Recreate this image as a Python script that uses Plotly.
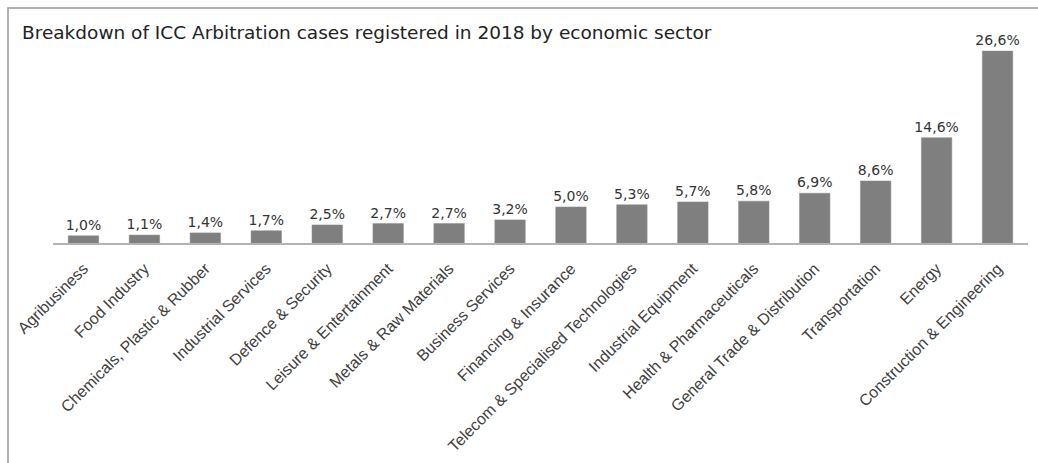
import plotly.graph_objects as go

categories = ["Agribusiness", "Food Industry", "Chemicals, Plastic & Rubber", "Industrial Services",
              "Defence & Security", "Leisure & Entertainment", "Metals & Raw Materials", "Business Services",
              "Financing & Insurance", "Telecom & Specialised Technologies", "Industrial Equipment",
              "Health & Pharmaceuticals", "General Trade & Distribution", "Transportation", "Energy",
              "Construction & Engineering"]
values = [1.0, 1.1, 1.4, 1.7, 2.5, 2.7, 2.7, 3.2, 5.0, 5.3, 5.7, 5.8, 6.9, 8.6, 14.6, 26.6]
title = "Breakdown of ICC Arbitration cases registered in 2018 by economic sector"

W, H = 1038, 463
ml, mr, mt, mb = 53, 10, 41, 220
pw, ph = W - ml - mr, H - mt - mb

def px(x):
    return (x - ml) / pw

def py(y):
    return (H - mb - y) / ph

fig = go.Figure(go.Bar(
    x=categories, y=values, width=0.5,
    marker=dict(color="#7f7f7f", line=dict(color="#8c8c8c", width=0.5)),
    texttemplate="%{y:.1f}%", textposition="outside", constraintext="none",
    textfont=dict(family="DejaVu Sans", size=14, color="#333333"),
    cliponaxis=False,
))

fig.update_layout(
    width=W, height=H, margin=dict(l=ml, r=mr, t=mt, b=mb),
    paper_bgcolor="white", plot_bgcolor="white",
    separators=", ",
    showlegend=False,
    bargap=0.5,
    xaxis=dict(tickangle=-45, showline=True, linecolor="#b3b3b3", linewidth=2,
               showgrid=False, ticks="", ticklabelstandoff=8, automargin=False,
               tickfont=dict(family="Liberation Sans", size=16, color="#404040")),
    yaxis=dict(range=[0, 28], visible=False, showgrid=False, zeroline=False, automargin=False),
    annotations=[dict(text=title, xref="paper", yref="paper", x=px(20), y=py(33),
                      xanchor="left", yanchor="middle", showarrow=False,
                      font=dict(family="DejaVu Sans", size=18.5, color="#222222"))],
    shapes=[dict(type="rect", xref="paper", yref="paper", x0=px(8), x1=px(1045),
                 y0=py(475), y1=py(8), line=dict(color="#999999", width=1.5))],
)

fig.write_html("out.html")
